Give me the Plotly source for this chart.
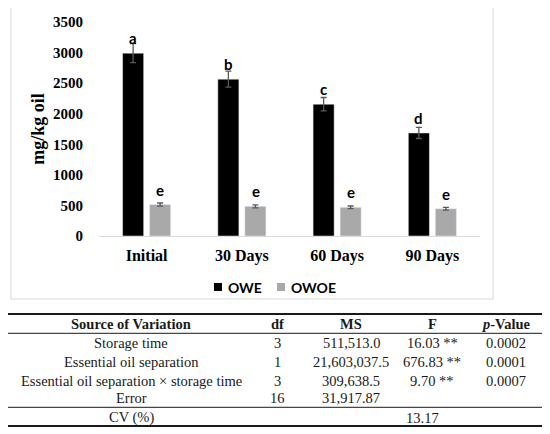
import plotly.graph_objects as go

# chart data
categories = ["Initial", "30 Days", "60 Days", "90 Days"]
owe = [2990, 2565, 2155, 1685]
owe_err = [155, 130, 110, 90]
owe_letters = ["a", "b", "c", "d"]
owoe = [515, 485, 469, 446]
owoe_err = [25, 25, 22, 22]
owoe_letters = ["e", "e", "e", "e"]
series_names = ["OWE", "OWOE"]
series_colors = ["#000000", "#a9a9a9"]

# ANOVA table
table_header = ["Source of Variation", "df", "MS", "F", "<i>p</i>-Value"]
sources = ["Storage time", "Essential oil separation",
           "Essential oil separation × storage time", "Error"]
df_vals = ["3", "1", "3", "16"]
ms_vals = ["511,513.0", "21,603,037.5", "309,638.5", "31,917.87"]
f_vals = ["16.03 **", "676.83 **", "9.70 **", ""]
p_vals = ["0.0002", "0.0001", "0.0007", ""]
cv_label = "CV (%)"
cv_value = "13.17"

# plot area in page pixels (the page body adds an 8px offset)
OFF = 8
L, R, T, B = 99, 480, 22, 236
W, H = 550, 434


def px(x):
    return (x - L) / (R - L)


def py(y):
    return (B - y) / (B - T)


serif = "Liberation Serif, Times New Roman, serif"
sans = "Lato"

fig = go.Figure()
for name, vals, errs, col in [(series_names[0], owe, owe_err, series_colors[0]),
                              (series_names[1], owoe, owoe_err, series_colors[1])]:
    fig.add_trace(go.Bar(x=categories, y=vals, name=name, marker=dict(color=col), showlegend=False,
                         error_y=dict(type="data", array=errs, color="#595959", thickness=1.3, width=3)))

# significance letters
for i, c in enumerate(categories):
    for val, let, sh in [(owe[i], owe_letters[i], -13.7), (owoe[i], owoe_letters[i], 13.7)]:
        fig.add_annotation(x=c, y=val, text=let, showarrow=False, xshift=sh, yshift=15,
                           yanchor="middle", font=dict(family=sans, size=15, color="black", weight="bold"))

shapes = [dict(type="rect", xref="paper", yref="paper", x0=px(11), x1=px(493), y0=py(299), y1=py(5),
               line=dict(color="#d9d9d9", width=1), layer="below")]

# legend keys
for name, col, x0 in zip(series_names, series_colors, [214, 277]):
    shapes.append(dict(type="rect", xref="paper", yref="paper", x0=px(x0), x1=px(x0 + 8),
                       y0=py(291), y1=py(283), line=dict(width=0), fillcolor=col))
    fig.add_annotation(xref="paper", yref="paper", x=px(x0 + 12), y=py(287), text=name,
                       showarrow=False, xanchor="left", yanchor="middle",
                       font=dict(family=sans, size=14, color="black", weight="bold"))

# table rules
for yy, w in [(314, 2), (333.3, 1), (407.3, 1), (426, 2)]:
    shapes.append(dict(type="line", xref="paper", yref="paper", x0=px(5), x1=px(544),
                       y0=py(yy), y1=py(yy), line=dict(color="#1a1a1a", width=w)))

col_x = [131, 277, 351, 432, 506]
row_y = [343.3, 361.7, 380.7, 398.3]


def cell(x, y, text, bold=False):
    fig.add_annotation(xref="paper", yref="paper", x=px(x), y=py(y), text=text, showarrow=False,
                       xanchor="center", yanchor="middle",
                       font=dict(family=serif, size=14.5, color="#1a1a1a",
                                 weight="bold" if bold else "normal"))


for x, h in zip(col_x, table_header):
    cell(x, 324.3, h, bold=True)
for y, row in zip(row_y, zip(sources, df_vals, ms_vals, f_vals, p_vals)):
    for x, t in zip(col_x, row):
        if t:
            cell(x, y, t)
cell(col_x[0], 417.7, cv_label)
cell(422, 417.7, cv_value)

fig.update_layout(
    width=W, height=H,
    margin=dict(l=L - OFF, r=W - (R - OFF), t=T - OFF, b=H - (B - OFF)),
    paper_bgcolor="white", plot_bgcolor="white",
    barmode="group", bargap=0.433, bargroupgap=0.22,
    shapes=shapes,
    xaxis=dict(showline=True, linecolor="#d9d9d9", linewidth=1, ticks="", ticklabelstandoff=5,
               automargin=False,
               tickfont=dict(family=serif, size=16, color="black", weight="bold")),
    yaxis=dict(range=[0, 3500], dtick=500, showgrid=False, zeroline=False, showline=False,
               ticklabelstandoff=15, automargin=False,
               tickfont=dict(family=serif, size=15, color="black", weight="bold"),
               title=dict(text="mg/kg oil", standoff=3,
                          font=dict(family=serif, size=18, color="black", weight="bold"))),
)

fig.write_html("out.html")
